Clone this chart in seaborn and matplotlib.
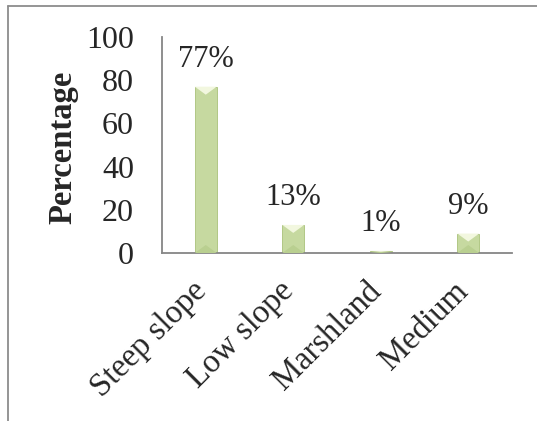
import matplotlib
matplotlib.use('Agg')
import matplotlib.pyplot as plt
import matplotlib.transforms as mtransforms
from matplotlib.lines import Line2D
from matplotlib.patches import Polygon
import seaborn as sns

# data
categories = ['Steep slope', 'Low slope', 'Marshland', 'Medium']
values = [77, 13, 1, 9]
labels = ['77%', '13%', '1%', '9%']
yticks = [0, 20, 40, 60, 80, 100]

sns.set_style('white')
plt.rcParams['font.family'] = ['Liberation Serif', 'DejaVu Serif']
plt.rcParams['font.size'] = 22

W, H, DPI = 537, 421, 100
fig = plt.figure(figsize=(W / DPI, H / DPI), dpi=DPI)
ax = fig.add_axes([162 / W, 1 - 253 / H, 350 / W, 216 / H])

sns.barplot(x=categories, y=values, color='#c6d9a0', saturation=1,
            width=0.25, edgecolor='#a9c27a', linewidth=0.6, ax=ax)

ax.set_ylim(0, 100)
ax.set_xlim(-0.5, 3.5)
ax.set_yticks(yticks)

# simple bevel look on each bar
px_per_unit = 216 / 100
for p in ax.patches:
    x0, w, h = p.get_x(), p.get_width(), p.get_height()
    d = min(8 / px_per_unit, h / 2)
    top = Polygon([[x0, h], [x0 + w, h], [x0 + w / 2, h - d]],
                  closed=True, fc='#f2f7df', ec='none', zorder=3)
    bot = Polygon([[x0, 0], [x0 + w, 0], [x0 + w / 2, d]],
                  closed=True, fc='#b9cf90', ec='none', zorder=3)
    ax.add_patch(top)
    ax.add_patch(bot)

for i, (v, lab) in enumerate(zip(values, labels)):
    ax.annotate(lab, (i, v), xytext=(0, 14), textcoords='offset points',
                ha='center', va='baseline', fontsize=22)

# axes styling
for s in ['top', 'right']:
    ax.spines[s].set_visible(False)
for s in ['left', 'bottom']:
    ax.spines[s].set_color('#868686')
    ax.spines[s].set_linewidth(1.3)
ax.tick_params(axis='y', length=7.2, width=1.3, color='#868686', pad=13,
               labelsize=23)
ax.tick_params(axis='x', length=0, pad=16.5, labelsize=23.5)
ax.set_xlabel('')
ax.set_ylabel('')

offset = mtransforms.ScaledTranslation(-15 / DPI, 0, fig.dpi_scale_trans)
for t in ax.get_xticklabels():
    t.set_rotation(45)
    t.set_ha('right')
    t.set_va('top')
    t.set_rotation_mode('anchor')
    t.set_transform(t.get_transform() + offset)

fig.text(63 / W, 1 - 147 / H, 'Percentage', rotation=90, ha='center',
         va='center', fontsize=23.5, fontweight='bold')

# frame of the original screenshot (top and left edges only)
fig.add_artist(Line2D([8 / W, 1], [1 - 6 / H, 1 - 6 / H], color='#8c8c8c',
                      lw=1.3, transform=fig.transFigure))
fig.add_artist(Line2D([8 / W, 8 / W], [0, 1 - 6 / H], color='#8c8c8c',
                      lw=1.3, transform=fig.transFigure))

fig.savefig('out.png', dpi=DPI)
